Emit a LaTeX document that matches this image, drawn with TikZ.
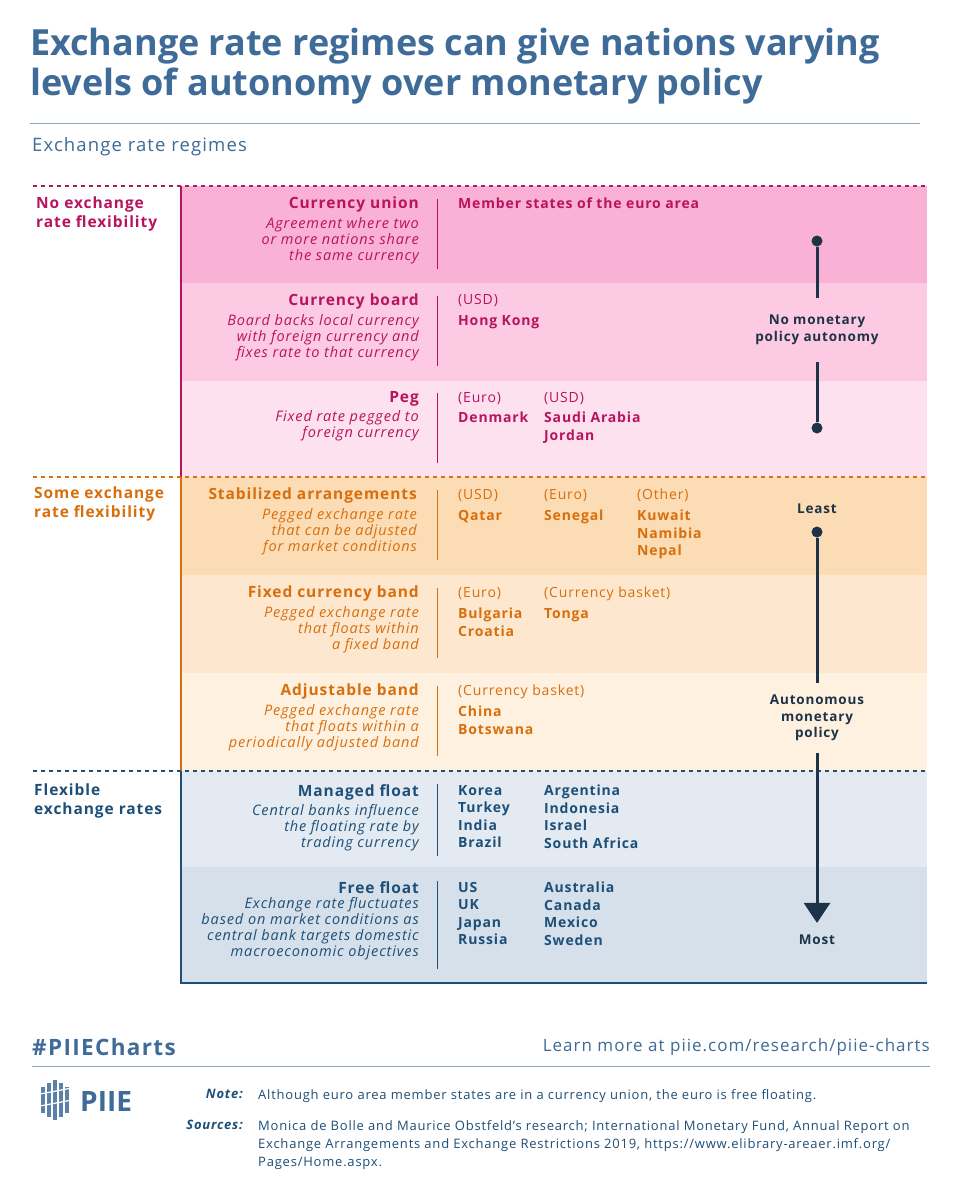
\documentclass[tikz,border=0pt]{standalone}
\usepackage{fontspec}
\setmainfont{Open Sans}[LetterSpace=6]
\newfontfamily\titlefont{Open Sans}
\usetikzlibrary{arrows.meta,positioning,calc}
\definecolor{titleblue}{HTML}{3E6B98}
\definecolor{pinktx}{HTML}{B8135E}
\definecolor{orangetx}{HTML}{D86E0C}
\definecolor{navytx}{HTML}{1D4F78}
\definecolor{arrowc}{HTML}{1E3348}
\definecolor{pinkA}{HTML}{F9B2D5}
\definecolor{pinkB}{HTML}{FCCBE3}
\definecolor{pinkC}{HTML}{FDE1EF}
\definecolor{orA}{HTML}{FCDCB4}
\definecolor{orB}{HTML}{FDE8CF}
\definecolor{orC}{HTML}{FEF1DF}
\definecolor{blA}{HTML}{E3EAF2}
\definecolor{blB}{HTML}{D5E0EA}
\definecolor{rulec}{HTML}{8FA7BF}
\tikzset{
  rowtitle/.style={anchor=north east,font=\fontsize{15.5}{17}\selectfont\bfseries,inner sep=0pt},
  rowdesc/.style={anchor=north east,align=right,font=\fontsize{14.5}{16}\selectfont\itshape,inner sep=0pt},
  cty/.style={anchor=north west,align=left,font=\fontsize{14}{17.5}\selectfont\bfseries,inner sep=0pt},
  ctyhead/.style={anchor=north west,font=\fontsize{14}{17}\selectfont,inner sep=0pt},
  group/.style={anchor=north west,align=left,font=\fontsize{15.5}{19}\selectfont\bfseries,inner sep=0pt},
  scale label/.style={align=center,font=\fontsize{13.5}{16.5}\selectfont\bfseries,text=arrowc,inner sep=0pt},
  sep/.style={line width=1pt},
  dot/.style={circle,fill=arrowc,inner sep=0pt,minimum size=11pt},
}
\begin{document}
\begin{tikzpicture}[x=1pt,y=-1pt]
  \useasboundingbox (0,0) rectangle (959,1200);
  \fill[white] (0,0) rectangle (959,1200);

  % title
  \node[anchor=north west,align=left,inner sep=0pt,text=titleblue,
    font=\titlefont\fontsize{36}{40}\selectfont\bfseries] (title) at (30,28)
    {Exchange rate regimes can give nations varying\\levels of autonomy over monetary policy};
  \draw[rulec,line width=1pt] (30,123) -- (920,123);
  \node[anchor=west,inner sep=0pt,text=titleblue,font=\fontsize{18.5}{20}\selectfont] (sub) at (32,147) {Exchange rate regimes};

  % row backgrounds
  \fill[pinkA] (181,186) rectangle (927,283);
  \fill[pinkB] (181,283) rectangle (927,381);
  \fill[pinkC] (181,381) rectangle (927,477);
  \fill[orA] (181,477) rectangle (927,575);
  \fill[orB] (181,575) rectangle (927,673);
  \fill[orC] (181,673) rectangle (927,771);
  \fill[blA] (181,771) rectangle (927,867);
  \fill[blB] (181,867) rectangle (927,982);

  % frame
  \draw[pinktx,line width=2pt] (181,186) -- (181,477);
  \draw[orangetx,line width=2pt] (181,477) -- (181,771);
  \draw[navytx,line width=2pt] (181,771) -- (181,983) -- (927,983);
  \draw[pinktx,line width=1.5pt,dash pattern=on 4pt off 4pt] (33,186) -- (927,186);
  \draw[orangetx,line width=1.5pt,dash pattern=on 4pt off 4pt] (33,477) -- (927,477);
  \draw[navytx,line width=1.5pt,dash pattern=on 4pt off 4pt] (33,771) -- (927,771);

  % groups
  \node[group,text=pinktx] (gNone) at (36,197) {No exchange\\rate flexibility};
  \node[group,text=orangetx] (gSome) at (34,487) {Some exchange\\rate flexibility};
  \node[group,text=navytx] (gFlex) at (34,784) {Flexible\\exchange rates};

  % pink rows
  \begin{scope}[text=pinktx]
    \node[rowtitle] (union) at (419,197) {Currency union};
    \node[rowdesc,below=4pt of union.south east,anchor=north east] {Agreement where two\\or more nations share\\the same currency};
    \node[cty] (euro) at (458,198) {Member states of the euro area};
    \node[rowtitle] (board) at (419,294) {Currency board};
    \node[rowdesc,below=4pt of board.south east,anchor=north east] {Board backs local currency\\with foreign currency and\\fixes rate to that currency};
    \node[ctyhead] (bUSD) at (458,294) {(USD)};
    \node[cty] at (458,315) {Hong Kong};
    \node[rowtitle] (peg) at (419,391) {Peg};
    \node[rowdesc,below=4pt of peg.south east,anchor=north east] {Fixed rate pegged to\\foreign currency};
    \node[ctyhead] at (458,392) {(Euro)};
    \node[cty] at (458,412) {Denmark};
    \node[ctyhead] at (544,392) {(USD)};
    \node[cty] at (544,412) {Saudi Arabia\\Jordan};
  \end{scope}
  \foreach \t in {199,296,393}
    \draw[pinktx,sep] (437,\t) -- ++(0,70);

  % orange rows
  \begin{scope}[text=orangetx]
    \node[rowtitle] (stab) at (417,488) {Stabilized arrangements};
    \node[rowdesc,below=4pt of stab.south east,anchor=north east] {Pegged exchange rate\\that can be adjusted\\for market conditions};
    \node[ctyhead] at (458,489) {(USD)};
    \node[cty] at (458,510) {Qatar};
    \node[ctyhead] at (544,489) {(Euro)};
    \node[cty] at (544,510) {Senegal};
    \node[ctyhead] at (637,489) {(Other)};
    \node[cty] at (637,510) {Kuwait\\Namibia\\Nepal};
    \node[rowtitle] (band) at (419,586) {Fixed currency band};
    \node[rowdesc,below=4pt of band.south east,anchor=north east] {Pegged exchange rate\\that floats within\\a fixed band};
    \node[ctyhead] at (458,587) {(Euro)};
    \node[cty] at (458,608) {Bulgaria\\Croatia};
    \node[ctyhead] at (544,587) {(Currency basket)};
    \node[cty] at (544,608) {Tonga};
    \node[rowtitle] (adj) at (419,684) {Adjustable band};
    \node[rowdesc,below=4pt of adj.south east,anchor=north east] {Pegged exchange rate\\that floats within a\\periodically adjusted band};
    \node[ctyhead] at (458,685) {(Currency basket)};
    \node[cty] at (458,706) {China\\Botswana};
  \end{scope}
  \foreach \t in {490,588,686}
    \draw[orangetx,sep] (437,\t) -- ++(0,70);

  % blue rows
  \begin{scope}[text=navytx]
    \node[rowtitle] (mfloat) at (419,784) {Managed float};
    \node[rowdesc,below=4pt of mfloat.south east,anchor=north east] {Central banks influence\\the floating rate by\\trading currency};
    \node[cty] at (458,785) {Korea\\Turkey\\India\\Brazil};
    \node[cty] at (544,785) {Argentina\\Indonesia\\Israel\\South Africa};
    \node[rowtitle] (ffloat) at (419,881) {Free float};
    \node[rowdesc,below=4pt of ffloat.south east,anchor=north east] {Exchange rate fluctuates\\based on market conditions as\\central bank targets domestic\\macroeconomic objectives};
    \node[cty] at (458,882) {US\\UK\\Japan\\Russia};
    \node[cty] at (544,882) {Australia\\Canada\\Mexico\\Sweden};
  \end{scope}
  \draw[navytx,sep] (437,784) -- ++(0,72);
  \draw[navytx,sep] (437,881) -- ++(0,88);

  % autonomy scale
  \node[dot] (d1) at (817,241) {};
  \node[scale label] (noauto) at (817,330) {No monetary\\policy autonomy};
  \node[dot] (d2) at (817,428) {};
  \draw[arrowc,line width=3pt] (d1) -- ($(noauto.north)+(0,-17)$);
  \draw[arrowc,line width=3pt] ($(noauto.south)+(0,17)$) -- (d2);
  \node[scale label] (least) at (817,509) {Least};
  \node[dot] (d3) at (817,532) {};
  \node[scale label] (auto) at (817,718) {Autonomous\\monetary\\policy};
  \node[scale label] (most) at (817,940) {Most};
  \draw[arrowc,line width=3pt] (d3) -- ($(auto.north)+(0,-12)$);
  \draw[arrowc,line width=3pt,-{Triangle[width=26pt,length=20pt]}] ($(auto.south)+(0,12)$) -- ($(most.north)+(0,-12)$);

  % footer
  \node[anchor=west,inner sep=0pt,text=titleblue,font=\fontsize{22.5}{24}\selectfont\bfseries] (tag) at (32,1047) {\#PIIECharts};
  \node[anchor=east,inner sep=0pt,text=titleblue,font=\fontsize{17}{20}\selectfont] (learn) at (930,1047) {Learn more at piie.com/research/piie-charts};
  \draw[rulec,line width=1pt] (32,1066) -- (930,1066);
  % logo
  \foreach \i/\h in {0/26,1/34,2/40,3/34,4/26}
    \fill[titleblue!85] (41+\i*6,1100-\h/2) rectangle ++(3.5,\h);
  \draw[white,line width=1.2pt] (40,1094) -- (72,1088) (40,1106) -- (72,1100);
  \node[anchor=west,inner sep=0pt,text=titleblue,font=\titlefont\fontsize{28}{30}\selectfont\bfseries] (logo) at (80,1101) {PIIE};
  \node[anchor=north east,inner sep=0pt,text=navytx,font=\fontsize{13}{15}\selectfont\bfseries\itshape] (note) at (243,1089) {Note:};
  \node[anchor=north west,inner sep=0pt,text=navytx,font=\fontsize{13}{15}\selectfont] (notetx) at (258,1089) {Although euro area member states are in a currency union, the euro is free floating.};
  \node[anchor=north east,inner sep=0pt,text=navytx,font=\fontsize{13}{15}\selectfont\bfseries\itshape] (src) at (243,1120) {Sources:};
  \node[anchor=north west,align=left,inner sep=0pt,text=navytx,font=\fontsize{13}{18}\selectfont] (srctx) at (258,1120) {Monica de Bolle and Maurice Obstfeld’s research; International Monetary Fund, Annual Report on\\Exchange Arrangements and Exchange Restrictions 2019, https://www.elibrary-areaer.imf.org/\\Pages/Home.aspx.};
\end{tikzpicture}
\end{document}
